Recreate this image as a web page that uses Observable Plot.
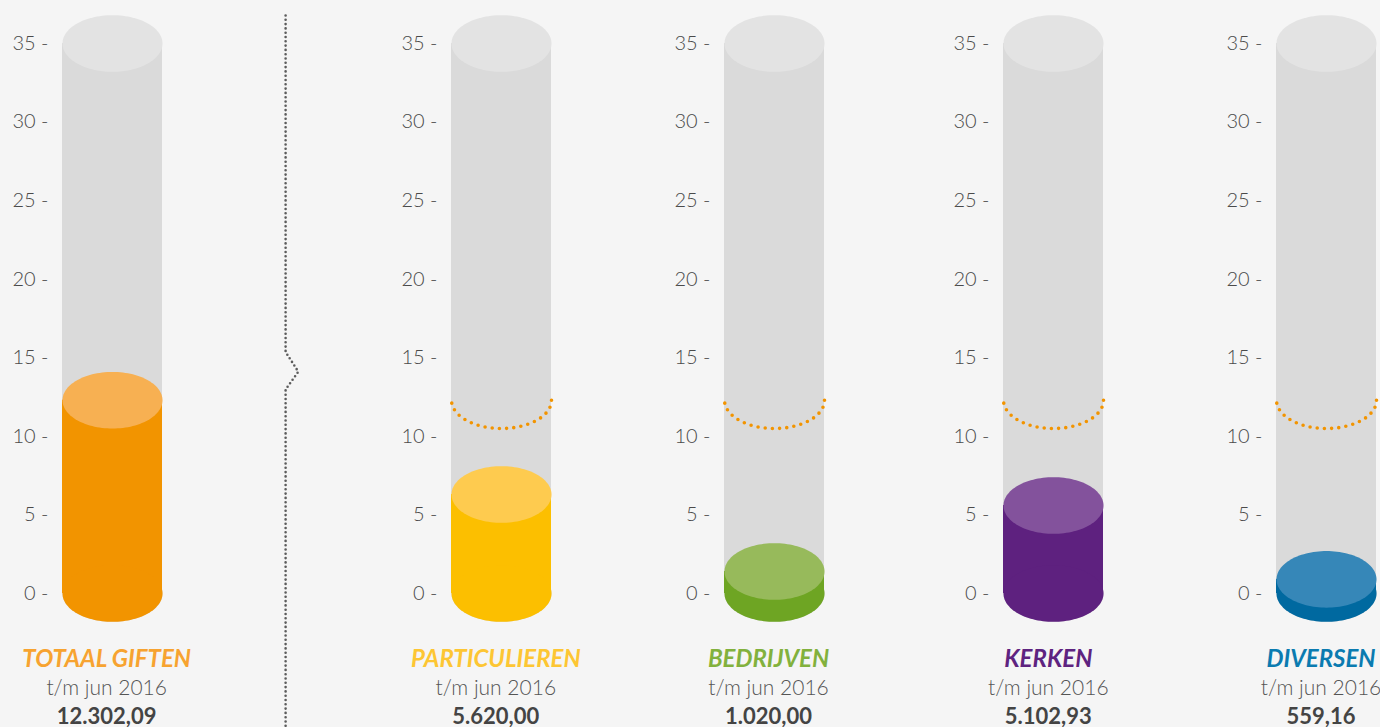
<!DOCTYPE html>
<html>
<head>
<meta charset="utf-8">
<script src="https://cdn.jsdelivr.net/npm/d3@7"></script>
<script src="https://cdn.jsdelivr.net/npm/@observablehq/plot@0.6"></script>
<style>
  html, body { margin: 0; padding: 0; }
  body { background: #f5f5f5; width: 1380px; height: 727px; overflow: hidden; position: relative; font-family: Lato, "Open Sans", sans-serif; }
  .panel { position: absolute; top: 0; width: 224px; }
  .panel svg { display: block; }
  .caption { margin-top: 3px; text-align: center; line-height: 29px; font-size: 21px; position: relative; left: -5px; white-space: nowrap; }
  .caption .name { font-weight: 700; font-style: italic; font-size: 24px; }
  .caption .period { font-weight: 300; color: #555; }
  .caption .total { font-weight: 700; color: #444; font-size: 22px; }
  #sep { position: absolute; left: 0; top: 0; pointer-events: none; }
</style>
</head>
<body>
<svg id="sep" width="1380" height="727">
  <path d="M285.6 15.5 V352 L298.3 371.7 L285.6 389.5 V727" fill="none" stroke="#5c5c5c" stroke-width="2.6" stroke-linecap="round" stroke-dasharray="0 4.3"/>
</svg>
<script>
// ---- data ----
const categories = ["TOTAAL GIFTEN", "PARTICULIEREN", "BEDRIJVEN", "KERKEN", "DIVERSEN"];
const totals = ["12.302,09", "5.620,00", "1.020,00", "5.102,93", "559,16"];
// fill levels of the cylinders as drawn (thousands)
const levels = [12.3, 6.3, 1.4, 5.6, 0.9];
// dotted reference ring (the total) shown on the sub-categories
const benchmark = 12.3;
const period = "t/m jun 2016";
const yTicks = [0, 5, 10, 15, 20, 25, 30, 35];
const yMax = 35;

// ---- styles & layout ----
const sideColors = ["#f29400", "#fcbf00", "#6ea523", "#5e217f", "#0069a0"];
const topColors  = ["#f7b052", "#fecb4f", "#97ba5b", "#83529c", "#3687b8"];
const nameColors = ["#f7a330", "#fdc633", "#82b13d", "#5e2380", "#0b7bb0"];
const centers = [111.7, 500.8, 773.5, 1053.3, 1326];
const W = 224, H = 640, mL = 62, mR = 62, mT = 43, mB = 47;
const pxPerUnit = (H - mT - mB) / yMax;
const ry = 28.3 / pxPerUnit; // ellipse vertical radius in y units

function ellipse(cy, from = 0, to = 2 * Math.PI, n = 120) {
  return d3.range(n + 1).map(i => {
    const t = from + (to - from) * i / n;
    return {x: Math.cos(t), y: cy - ry * Math.sin(t)};
  });
}

categories.forEach((cat, i) => {
  const level = levels[i];
  const marks = [
    // empty tube
    Plot.rect([yMax], {x1: -1, x2: 1, y1: 0, y2: d => d, fill: "#dadada"}),
    Plot.line(ellipse(0), {x: "x", y: "y", fill: "#dadada", stroke: "none"}),
    Plot.line(ellipse(yMax), {x: "x", y: "y", fill: "#e3e3e3", stroke: "none"}),
    // filled part
    Plot.rect([level], {x1: -1, x2: 1, y1: 0, y2: d => d, fill: sideColors[i]}),
    Plot.line(ellipse(0), {x: "x", y: "y", fill: sideColors[i], stroke: "none"}),
    Plot.line(ellipse(level), {x: "x", y: "y", fill: topColors[i], stroke: "none"})
  ];
  if (i > 0) {
    // front (lower) half of the dotted ring at the total level
    marks.push(Plot.line(ellipse(benchmark, 0, Math.PI, 200), {
      x: "x", y: "y", stroke: "#f29400", strokeWidth: 3.6,
      strokeLinecap: "round", strokeDasharray: "0 7.2"
    }));
  }
  const chart = Plot.plot({
    width: W, height: H,
    marginLeft: mL, marginRight: mR, marginTop: mT, marginBottom: mB,
    x: {domain: [-1, 1], axis: null},
    y: {domain: [0, yMax], axis: "left", ticks: yTicks, tickSize: 0, tickPadding: 14,
        tickFormat: d => `${d} -`, label: null},
    style: {background: "transparent", fontSize: "20px", fontFamily: "Lato, sans-serif",
            fontWeight: 300, color: "#4a4a4a", overflow: "visible"},
    marks
  });

  const panel = document.createElement("div");
  panel.className = "panel";
  panel.style.left = (centers[i] - W / 2) + "px";
  panel.appendChild(chart);
  const cap = document.createElement("div");
  cap.className = "caption";
  const n = document.createElement("div");
  n.className = "name"; n.style.color = nameColors[i]; n.textContent = cat;
  const p = document.createElement("div");
  p.className = "period"; p.textContent = period;
  const t = document.createElement("div");
  t.className = "total"; t.textContent = totals[i];
  cap.append(n, p, t);
  panel.appendChild(cap);
  document.body.appendChild(panel);
});
</script>
</body>
</html>
